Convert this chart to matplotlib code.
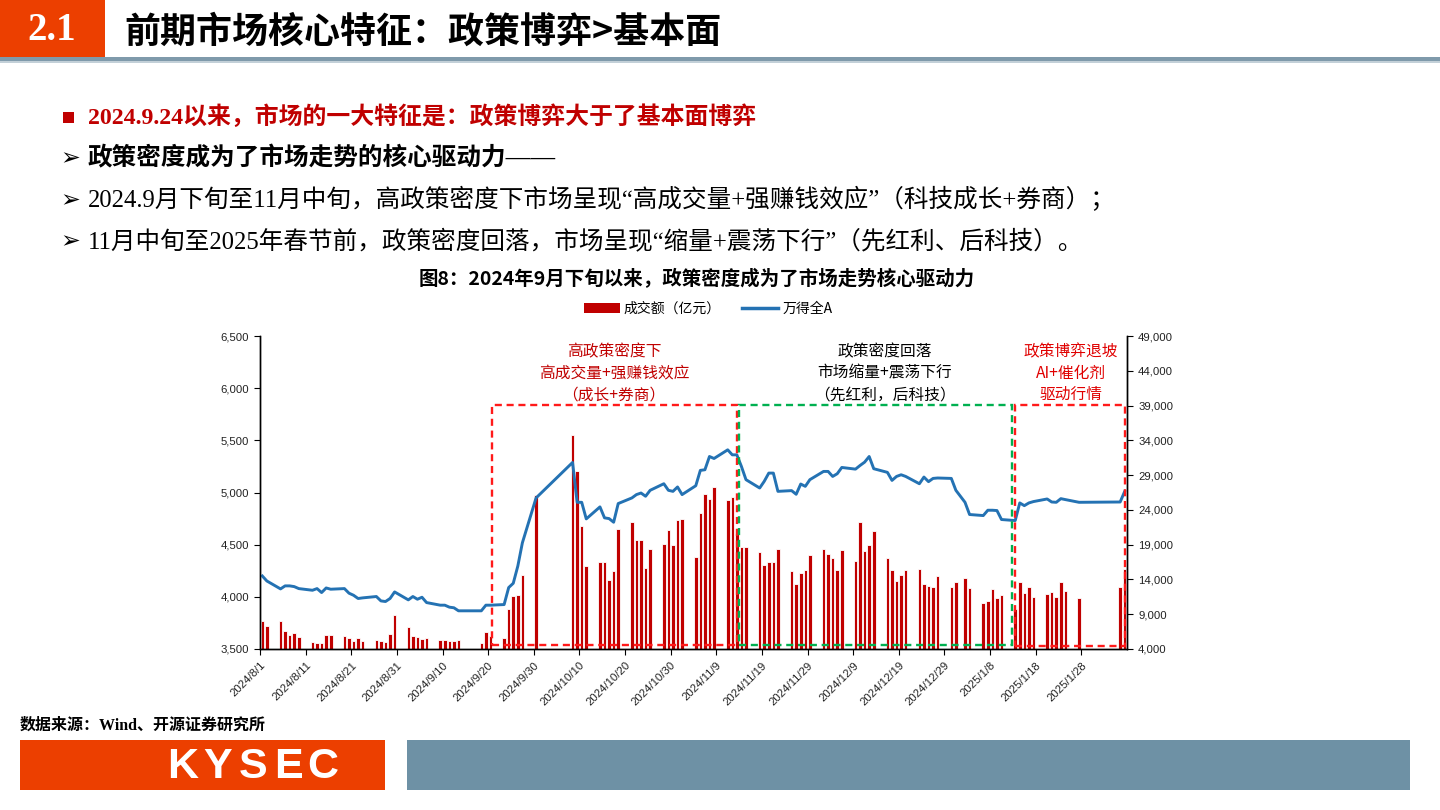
import numpy as np
import pandas as pd
import matplotlib
matplotlib.use("Agg")
import matplotlib.pyplot as plt
import matplotlib.dates as mdates
from matplotlib.patches import Rectangle
from matplotlib.lines import Line2D
from matplotlib.ticker import FuncFormatter

plt.rcParams['font.family'] = ['Noto Sans CJK SC', 'DejaVu Sans']
plt.rcParams['axes.unicode_minus'] = False

W, H = 1440, 810

# A-share trading calendar 2024/8/1 - 2025/2/6
HOLIDAYS = ['2024-09-16', '2024-09-17', '2024-10-01', '2024-10-02', '2024-10-03',
            '2024-10-04', '2024-10-07', '2025-01-01', '2025-01-28', '2025-01-29',
            '2025-01-30', '2025-01-31', '2025-02-03', '2025-02-04']

# 万得全A (left axis), by month
wind_aug = [4200, 4152, 4076, 4105, 4105, 4098, 4079, 4063, 4079, 4041, 4085, 4073,
            4079, 4035, 4015, 3984, 3990, 4003, 3961, 3955, 3984, 4047]
wind_sep = [3971, 4003, 3977, 3996, 3945, 3920, 3920, 3901, 3895, 3866, 3866, 3920,
            3920, 3926, 4089, 4130, 4295, 4518, 4948]
wind_oct = [5288, 4906, 4906, 4747, 4862, 4757, 4750, 4715, 4894, 4948, 4980, 4995,
            4964, 5021, 5084, 5021, 5011, 5053]
wind_nov = [4980, 5065, 5212, 5218, 5345, 5326, 5409, 5361, 5361, 5250, 5123, 5043,
            5107, 5186, 5186, 5011, 5018, 4983, 5081, 5059, 5123]
wind_dec = [5202, 5202, 5154, 5180, 5240, 5224, 5259, 5291, 5345, 5228, 5193, 5116,
            5154, 5170, 5154, 5084, 5148, 5104, 5135, 5139, 5135, 5021]
wind_jan = [4906, 4789, 4779, 4830, 4830, 4827, 4741, 4731, 4900, 4874, 4900, 4913,
            4938, 4909, 4906, 4941, 4932, 4906]
wind_feb = [4909, 5011]

# 成交额（亿元） (right axis), by month
amt_aug = [7961, 7340, 8056, 6625, 6004, 6290, 5718, 5050, 4859, 4859, 6004, 6004,
           5813, 5622, 5193, 5527, 5193, 5336, 5193, 5050, 6147, 8867]
amt_sep = [7102, 5909, 5670, 5432, 5527, 5288, 5336, 5145, 5193, 5336, 4859, 6386,
           5813, 5622, 9726, 11635, 11730, 14594, 26190]
amt_oct = [34780, 29626, 21656, 15930, 16550, 16550, 13878, 15214, 21322, 22277, 19652,
           19652, 15691, 18316, 19127, 21131, 18889, 22611]
amt_nov = [22706, 17266, 23566, 26238, 25617, 27287, 25474, 25856, 20463, 18698, 18650,
           17982, 16025, 16550, 16550, 18316, 15214, 13400, 14880, 15357, 17505]
amt_dec = [18316, 17600, 17028, 15357, 18220, 16646, 22324, 18077, 18889, 20941, 17123,
           15357, 13830, 14689, 15357, 15453, 13305, 13067, 12971, 14498, 12971, 13639]
amt_jan = [14164, 12828, 10681, 10872, 12590, 11349, 11730, 9726, 13687, 12112, 12971,
           11540, 11970, 12208, 11540, 13687, 12351, 11349]
amt_feb = [12971, 15548]

tick_labels = ['2024/8/1', '2024/8/11', '2024/8/21', '2024/8/31', '2024/9/10', '2024/9/20',
               '2024/9/30', '2024/10/10', '2024/10/20', '2024/10/30', '2024/11/9',
               '2024/11/19', '2024/11/29', '2024/12/9', '2024/12/19', '2024/12/29',
               '2025/1/8', '2025/1/18', '2025/1/28']

wind = wind_aug + wind_sep + wind_oct + wind_nov + wind_dec + wind_jan + wind_feb
amount = amt_aug + amt_sep + amt_oct + amt_nov + amt_dec + amt_jan + amt_feb

days = pd.bdate_range('2024-08-01', '2025-02-06').drop(pd.to_datetime(HOLIDAYS))
xpos = days + pd.Timedelta(hours=12)
assert len(days) == len(wind) == len(amount)

RED_BAR = '#C00000'
BLUE = '#2472B3'
DASH_RED = '#FF1A1A'
DASH_GREEN = '#00B050'
ORANGE = '#EC3F00'
SLATE = '#6E91A5'


def fx(px):
    return px / W


def fy(py):
    return 1 - py / H


fig = plt.figure(figsize=(14.4, 8.1), dpi=100)
fig.patch.set_facecolor('white')

# ---- slide header ----
fig.add_artist(Rectangle((0, fy(57)), fx(105), 57 / H, transform=fig.transFigure,
                         facecolor=ORANGE, edgecolor='none'))
fig.add_artist(Rectangle((0, fy(60.5)), 1, 3.5 / H, transform=fig.transFigure,
                         facecolor='#7F9AAB', edgecolor='none'))
fig.add_artist(Rectangle((0, fy(62.5)), 1, 2 / H, transform=fig.transFigure,
                         facecolor='#C3D0D8', edgecolor='none'))
fig.text(fx(52), fy(31), '2.1', color='white', fontsize=28, fontweight='bold',
         family='Liberation Serif', ha='center', va='center')
fig.text(fx(124), fy(32), '前期市场核心特征：政策博弈>基本面', color='black',
         fontsize=25.9, fontweight='bold', ha='left', va='center')

# ---- bullets ----
mix = ['Liberation Serif', 'Noto Sans CJK SC']
fig.add_artist(Rectangle((fx(63), fy(123)), fx(11), 11 / H, transform=fig.transFigure,
                         facecolor=RED_BAR, edgecolor='none'))
fig.text(fx(88), fy(117), '2024.9.24以来，市场的一大特征是：政策博弈大于了基本面博弈',
         color=RED_BAR, fontsize=17.2, fontweight='bold', family=mix, va='center')
bullets = [(158, '政策密度成为了市场走势的核心驱动力——', 'bold'),
           (200, '2024.9月下旬至11月中旬，高政策密度下市场呈现“高成交量+强赚钱效应”（科技成长+券商）；', 'normal'),
           (241, '11月中旬至2025年春节前，政策密度回落，市场呈现“缩量+震荡下行”（先红利、后科技）。', 'normal')]
for yy, txt, wt in bullets:
    fig.text(fx(60), fy(yy), '➢', fontsize=17, family='DejaVu Sans', va='center')
    fig.text(fx(88), fy(yy), txt, color='black', fontsize=17.7, fontweight=wt,
             family=mix, va='center')

# ---- chart title ----
fig.text(fx(697), fy(279), '图8：2024年9月下旬以来，政策密度成为了市场走势核心驱动力',
         fontsize=14, fontweight='bold', ha='center', va='center')

# ---- chart ----
ax = fig.add_axes([fx(260), fy(649), fx(1127) - fx(260), (649 - 336) / H])
ax2 = ax.twinx()

ax2.bar(xpos, amount, width=0.78, color=RED_BAR, edgecolor='white', linewidth=0.6)
ax.plot(xpos, wind, color=BLUE, lw=2.1, solid_joinstyle='round')

ax.set_zorder(ax2.get_zorder() + 1)
ax.patch.set_visible(False)

ax.set_xlim(pd.Timestamp('2024-08-01'), pd.Timestamp('2025-02-07'))
ax.set_ylim(3500, 6500)
ax.set_yticks(np.arange(3500, 6501, 500))
ax2.set_ylim(4000, 49000)
ax2.set_yticks(np.arange(4000, 49001, 5000))
fmt = FuncFormatter(lambda v, p: f'{v:,.0f}')
ax.yaxis.set_major_formatter(fmt)
ax2.yaxis.set_major_formatter(fmt)

tick_dates = pd.to_datetime(tick_labels, format='%Y/%m/%d')
ax.set_xticks(tick_dates)
ax.set_xticklabels(tick_labels, rotation=45, ha='right', rotation_mode='anchor')

for a in (ax, ax2):
    a.spines['top'].set_visible(False)
    for s in ('left', 'right', 'bottom'):
        a.spines[s].set_color('black')
        a.spines[s].set_linewidth(1.0)
    a.tick_params(axis='both', direction='out', length=4, width=0.8, color='black',
                  labelsize=8.2, labelcolor='#222222', pad=4)
    for lab in a.get_xticklabels() + a.get_yticklabels():
        lab.set_family('Liberation Sans')

# dashed phase boxes (days counted from 2024/8/1)
t0 = mdates.date2num(pd.Timestamp('2024-08-01'))
boxes = [(50.9, 104.5, 3538, DASH_RED),
         (104.9, 164.8, 3538, DASH_GREEN),
         (165.5, 189.6, 3525, DASH_RED)]
for d0, d1, ybot, col in boxes:
    ax.add_patch(Rectangle((t0 + d0, ybot), d1 - d0, 5840 - ybot, fill=False,
                           edgecolor=col, lw=1.7, ls=(0, (3, 2)), clip_on=False,
                           zorder=5))

notes = [(77.6, '高政策密度下\n高成交量+强赚钱效应\n（成长+券商）', '#C00000'),
         (136.9, '政策密度回落\n市场缩量+震荡下行\n（先红利，后科技）', 'black'),
         (177.7, '政策博弈退坡\nAI+催化剂\n驱动行情', '#E00000')]
for dc, txt, col in notes:
    ax.text(t0 + dc, 6145, txt, color=col, fontsize=11.3, ha='center', va='center',
            linespacing=1.35, clip_on=False)

handles = [Rectangle((0, 0), 1, 1, facecolor=RED_BAR, edgecolor='none'),
           Line2D([0], [0], color=BLUE, lw=2.5)]
fig.legend(handles, ['成交额（亿元）', '万得全A'], loc='center',
           bbox_to_anchor=(fx(708), fy(309)), ncol=2, frameon=False,
           fontsize=10, handlelength=2.6, handleheight=0.7, columnspacing=1.5,
           handletextpad=0.3)

# ---- footer ----
fig.text(fx(20), fy(726), '数据来源：Wind、开源证券研究所', fontsize=11.5,
         fontweight='bold', family=mix, va='center')
fig.add_artist(Rectangle((fx(20), fy(790)), fx(365), 50 / H, transform=fig.transFigure,
                         facecolor=ORANGE, edgecolor='none'))
fig.add_artist(Rectangle((fx(407), fy(790)), fx(1003), 50 / H, transform=fig.transFigure,
                         facecolor=SLATE, edgecolor='none'))
for i, ch in enumerate('KYSEC'):
    fig.text(fx(183 + 35 * i), fy(767), ch, color='white', fontsize=31,
             fontweight='heavy', family='Liberation Sans', ha='center', va='center')

fig.savefig('out.png', dpi=100)
